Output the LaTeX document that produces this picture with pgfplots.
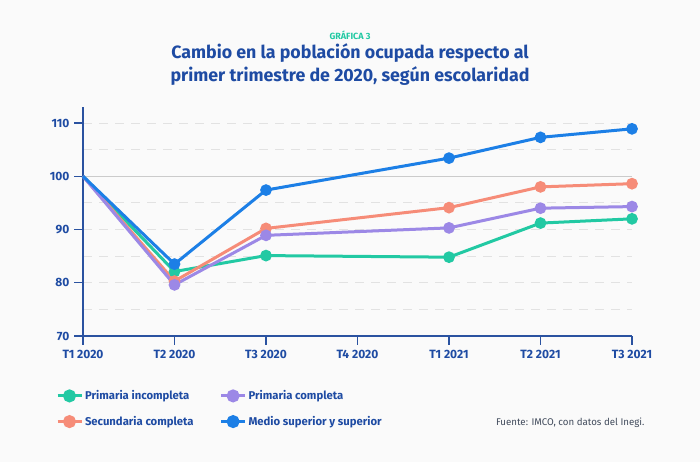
\documentclass[border=0pt]{standalone}
\usepackage{pgfplots}
\pgfplotsset{compat=1.18}
\usepackage{fontspec}
\setmainfont{Fira Sans}
\definecolor{bg}{HTML}{FAFAFA}
\definecolor{txt}{HTML}{1E4BA3}
\definecolor{axc}{HTML}{2A52A0}
\definecolor{cg}{HTML}{22C9A3}
\definecolor{cp}{HTML}{9C88E6}
\definecolor{co}{HTML}{F68C78}
\definecolor{cb}{HTML}{1C7FE6}
\definecolor{gridc}{HTML}{E2E2E2}
\definecolor{src}{HTML}{414B5C}
\begin{document}
\begin{tikzpicture}[x=1pt,y=1pt]
\fill[bg] (0,0) rectangle (700,462);
\node[font=\bfseries\fontsize{9}{11}\selectfont, text=cg] at (350,427) {GRÁFICA 3};
\node[font=\bfseries\fontsize{17.8}{23}\selectfont, text=txt, align=center] at (350,397.5) {Cambio en la población ocupada respecto al\\primer trimestre de 2020, según escolaridad};
\node[font=\fontsize{9.7}{11}\selectfont, text=src, anchor=east] at (648,39) {Fuente: IMCO, con datos del Inegi.};
\begin{axis}[at={(83pt,126pt)}, anchor=south west, scale only axis,
  width=549pt, height=229pt,
  xmin=0, xmax=6, ymin=70, ymax=113, clip=false,
  axis x line*=bottom, axis y line*=left,
  axis line style={axc, line width=1.4pt, -},
  xtick={0,...,6},
  xticklabels={T1 2020,T2 2020,T3 2020,T4 2020,T1 2021,T2 2021,T3 2021},
  ytick={70,80,...,110}, minor ytick={75,85,...,105},
  tick align=outside, major tick length=9pt, minor tick length=0pt,
  tick style={axc, line width=1.4pt},
  ymajorgrids, yminorgrids,
  major grid style={dashed, dash pattern=on 9pt off 7pt, gridc, line width=0.9pt},
  minor grid style={dashed, dash pattern=on 9pt off 7pt, gridc, line width=0.9pt},
  extra y ticks={100}, extra y tick labels={},
  extra y tick style={major grid style={solid, gridc!90!black, line width=1pt}, major tick length=0pt},
  ticklabel style={font=\bfseries\fontsize{12}{14}\selectfont, text=txt},
  xticklabel style={yshift=-1.5pt},
  yticklabel style={xshift=-1pt},
  /pgf/number format/assume math mode=true,
  legend columns=2,
  legend style={at={(-0.055,-0.22)}, anchor=north west, draw=none, fill=none,
    font=\bfseries\fontsize{11.3}{13}\selectfont, text=txt,
    /tikz/every even column/.append style={column sep=24pt},
    row sep=11pt},
  legend cell align=left,
  legend image code/.code={\draw[line width=3pt,#1] (0pt,0pt)--(24pt,0pt); \fill[#1] (12pt,0pt) circle (5pt);},
  every axis plot/.append style={line width=3pt, mark=*, mark size=4.3pt, mark phase=2, mark repeat=1, mark options={solid}},
]
\addlegendimage{cg}\addlegendentry{Primaria incompleta}
\addlegendimage{cp}\addlegendentry{Primaria completa}
\addlegendimage{co}\addlegendentry{Secundaria completa}
\addlegendimage{cb}\addlegendentry{Medio superior y superior}
\addplot[cg, forget plot] coordinates {(0,100) (1,82.1) (2,85.1) (4,84.8) (5,91.2) (6,92.0)};
\addplot[co, forget plot] coordinates {(0,100) (1,80.3) (2,90.2) (4,94.1) (5,98.0) (6,98.6)};
\addplot[cp, forget plot] coordinates {(0,100) (1,79.6) (2,88.9) (4,90.3) (5,94.0) (6,94.3)};
\addplot[cb, forget plot] coordinates {(0,100) (1,83.5) (2,97.4) (4,103.4) (5,107.3) (6,108.9)};
\end{axis}
\end{tikzpicture}
\end{document}
